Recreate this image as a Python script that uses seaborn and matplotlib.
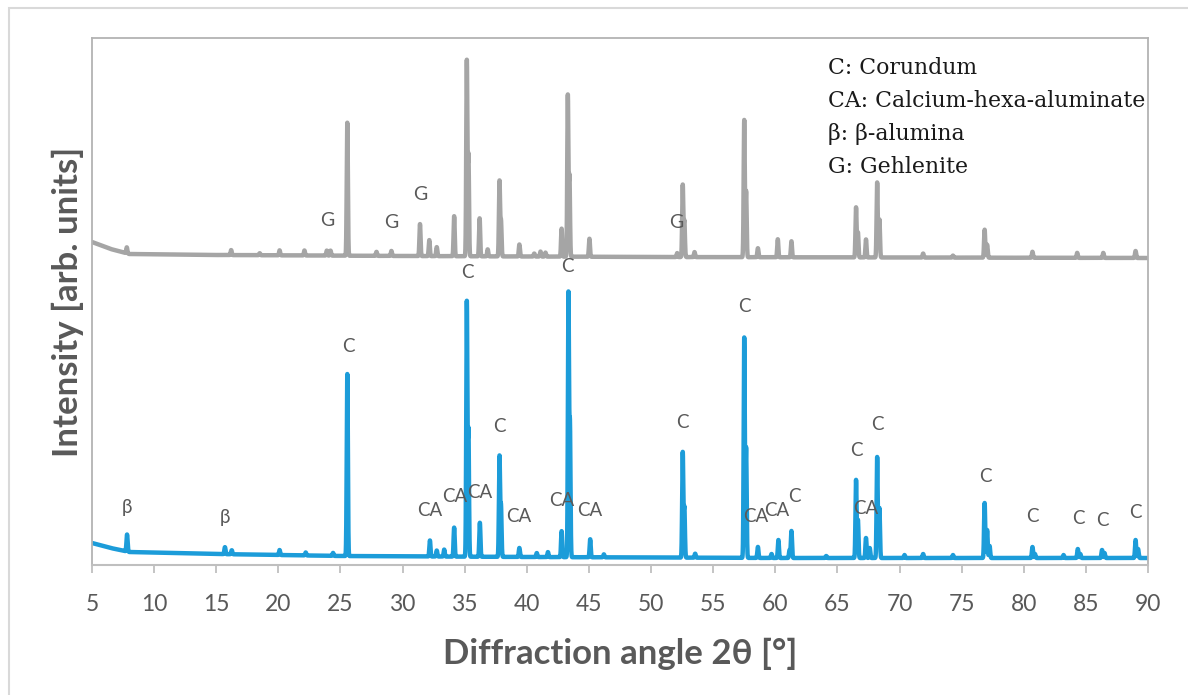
import numpy as np
import pandas as pd
import matplotlib
matplotlib.use("Agg")
import matplotlib.pyplot as plt
import seaborn as sns
from matplotlib.patches import Rectangle

# Peak lists: 2theta position and height above background
# (intensity in arbitrary units, 0..527 is the plotted range)
blue_pos = [7.82, 15.7, 16.25, 20.1, 22.2, 24.4, 25.55, 32.2, 32.75, 33.35, 34.15,
            35.17, 35.30, 36.22, 37.8, 37.92, 39.4, 40.8, 41.7, 42.8, 43.35, 43.47,
            45.1, 46.2, 52.55, 52.68, 53.55, 57.5, 57.65, 58.6, 59.7, 60.25, 61.15,
            61.3, 64.1, 66.5, 66.65, 67.3, 67.6, 68.2, 68.38, 70.4, 71.9, 74.3,
            76.85, 77.05, 77.25, 80.7, 80.9, 83.2, 84.35, 84.55, 86.3, 86.5, 89.0, 89.2]
blue_amp = [17, 7, 4, 5, 3, 3, 182, 16, 6, 7, 29,
            254, 125, 34, 100, 50, 9, 4, 5, 26, 262, 130,
            18, 3, 105, 50, 4, 220, 110, 11, 4, 18, 8,
            27, 2, 78, 38, 20, 10, 101, 50, 3, 4, 3,
            55, 28, 12, 11, 4, 3, 9, 4, 8, 5, 18, 9]
blue_bg_x = [5, 6.5, 8, 15, 25, 40, 60, 90]
blue_bg_y = [22, 17, 13, 11, 9, 8, 7, 7]

grey_pos = [7.8, 16.2, 18.5, 20.1, 22.1, 23.9, 24.2, 25.55, 27.9, 29.1, 31.4, 32.15,
            32.75, 34.15, 35.17, 35.30, 36.2, 36.85, 37.8, 37.92, 39.4, 40.6, 41.1,
            41.5, 42.8, 43.3, 43.43, 45.04, 52.1, 52.55, 52.68, 53.5, 57.5, 57.65,
            58.6, 60.2, 61.3, 66.5, 66.65, 67.3, 68.2, 68.38, 71.9, 74.3, 76.85,
            77.05, 80.7, 84.3, 86.4, 89.0]
grey_amp = [6, 5, 2, 5, 5, 5, 5, 133, 4, 5, 32, 16,
            9, 40, 195, 100, 38, 7, 75, 35, 12, 3, 5,
            4, 28, 161, 80, 18, 4, 72, 36, 5, 137, 66,
            9, 18, 16, 50, 25, 18, 75, 38, 4, 2, 28,
            13, 6, 5, 5, 7]
grey_bg_x = [5, 6.5, 8, 15, 30, 50, 90]
grey_bg_y = [323, 316, 311, 310, 309, 308, 307]

# phase labels: text, 2theta, height
grey_lab = ["G", "G", "G", "G"]
grey_lab_x = [23.9, 29.1, 31.4, 52.0]
grey_lab_y = [345, 343, 370, 342]

blue_lab = ["β", "β", "C", "CA", "CA", "CA", "C", "C", "CA", "CA", "C", "CA", "C",
            "C", "CA", "CA", "C", "C", "CA", "C", "C", "C", "C", "C", "C"]
blue_lab_x = [7.8, 15.7, 25.6, 32.2, 34.17, 36.2, 35.2, 37.8, 39.35, 42.85, 43.3, 45.07,
              52.55, 57.5, 58.45, 60.15, 61.5, 66.5, 67.3, 68.2, 76.9, 80.7, 84.4, 86.3, 89.0]
blue_lab_y = [57, 47, 219, 54, 69, 73, 293, 139, 48, 64, 299, 55,
              142, 258, 48, 55, 69, 114, 56, 140, 88, 49, 47, 44, 53]

legend_lines = ["C: Corundum", "CA: Calcium-hexa-aluminate", "β: β-alumina", "G: Gehlenite"]


def pattern(x, pos, amp, bg_x, bg_y, sigma=0.045):
    y = np.interp(x, bg_x, bg_y)
    for p, a in zip(pos, amp):
        y = y + a * np.exp(-0.5 * ((x - p) / sigma) ** 2)
    return y


two_theta = np.arange(5, 90.0001, 0.005)
df = pd.DataFrame({
    "two_theta": two_theta,
    "grey": pattern(two_theta, grey_pos, grey_amp, grey_bg_x, grey_bg_y),
    "blue": pattern(two_theta, blue_pos, blue_amp, blue_bg_x, blue_bg_y),
})

sns.set_style("white")
plt.rcParams['font.family'] = ['Lato', 'DejaVu Sans']

fig = plt.figure(figsize=(11.88, 6.95), dpi=100)
ax = fig.add_axes([92 / 1188, 130 / 695, 1056 / 1188, 527 / 695])

txt = '#595959'
sns.lineplot(data=df, x="two_theta", y="grey", ax=ax, color='#a5a5a5', lw=3.2)
sns.lineplot(data=df, x="two_theta", y="blue", ax=ax, color='#1c9cd9', lw=3.2)

for t, x, y in zip(grey_lab, grey_lab_x, grey_lab_y):
    ax.text(x, y, t, ha='center', va='center', fontsize=14, color=txt)
for t, x, y in zip(blue_lab, blue_lab_x, blue_lab_y):
    ax.text(x, y, t, ha='center', va='center', fontsize=13.5, color=txt)

for i, line in enumerate(legend_lines):
    ax.text(0.697, (565 - 68 - 33 * i) / 527, line, transform=ax.transAxes,
            ha='left', va='center', fontsize=15.8, color='#1a1a1a',
            family=['DejaVu Serif'])

ax.set_xlim(5, 90)
ax.set_ylim(0, 527)
ax.set_xticks(range(5, 91, 5))
ax.set_yticks([])
ax.tick_params(axis='x', direction='out', length=6, width=1.3, color='#bfbfbf',
               labelsize=16.5, labelcolor=txt, pad=15, bottom=True)
for s in ['left', 'top', 'right']:
    ax.spines[s].set_color('#b3b3b3')
    ax.spines[s].set_linewidth(1.3)
ax.spines['bottom'].set_color('#bfbfbf')
ax.spines['bottom'].set_linewidth(1.5)

ax.set_xlabel("Diffraction angle 2θ [°]", fontsize=25, fontweight='bold', color=txt, labelpad=16)
ax.set_ylabel("Intensity [arb. units]", fontsize=25, fontweight='bold', color=txt, labelpad=6)

fig.add_artist(Rectangle((9 / 1188, -0.05), 1.2, 687 / 695 + 0.05, transform=fig.transFigure,
                         fill=False, edgecolor='#d9d9d9', lw=1.5))

fig.savefig("out.png", dpi=100)
